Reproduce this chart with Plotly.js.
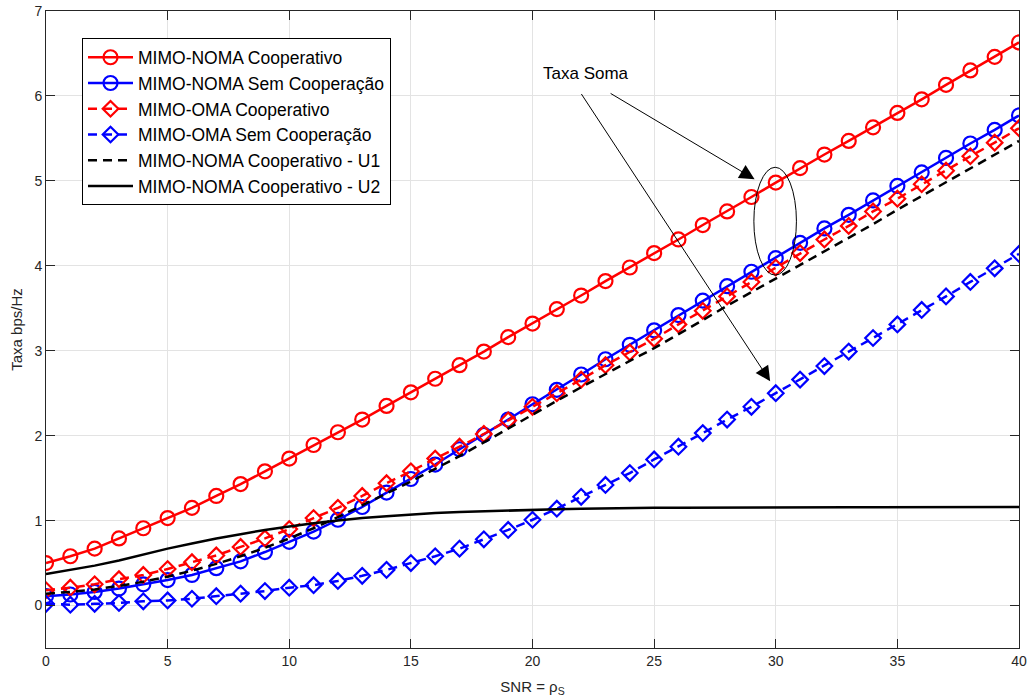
<!DOCTYPE html>
<html>
<head>
<meta charset="utf-8">
<script src="https://cdn.plot.ly/plotly-3.0.1.min.js"></script>
<style>html,body{margin:0;padding:0;background:#fff;}#chart{width:1032px;height:699px;}</style>
</head>
<body>
<div id="chart"></div>
<script>
// SNR values (x axis)
const snr = [0,1,2,3,4,5,6,7,8,9,10,11,12,13,14,15,16,17,18,19,20,21,22,23,24,25,26,27,28,29,30,31,32,33,34,35,36,37,38,39,40];

// MIMO-NOMA Cooperativo (red, circles)
const nomaCoop = [0.50,0.58,0.67,0.79,0.91,1.03,1.15,1.29,1.43,1.58,1.73,1.89,2.04,2.19,2.35,2.51,2.67,2.83,2.99,3.16,3.32,3.49,3.65,3.82,3.98,4.15,4.31,4.48,4.64,4.81,4.98,5.15,5.31,5.47,5.63,5.80,5.96,6.13,6.30,6.46,6.63];

// MIMO-NOMA Sem Cooperação (blue, circles)
const nomaSem = [0.11,0.13,0.16,0.20,0.25,0.30,0.36,0.44,0.52,0.63,0.75,0.87,1.01,1.16,1.33,1.49,1.66,1.84,2.01,2.19,2.37,2.54,2.72,2.90,3.07,3.24,3.42,3.59,3.76,3.93,4.09,4.27,4.44,4.60,4.77,4.94,5.10,5.27,5.44,5.60,5.77];

// MIMO-OMA Cooperativo (red, diamonds, dashed)
const omaCoop = [0.18,0.21,0.25,0.31,0.36,0.43,0.51,0.59,0.69,0.79,0.90,1.03,1.15,1.29,1.44,1.58,1.73,1.87,2.02,2.18,2.34,2.50,2.66,2.83,2.98,3.14,3.31,3.47,3.64,3.81,3.98,4.15,4.31,4.47,4.64,4.79,4.96,5.12,5.29,5.45,5.62];

// MIMO-OMA Sem Cooperação (blue, diamonds, dashed)
const omaSem = [0.02,0.01,0.02,0.03,0.05,0.06,0.08,0.11,0.14,0.17,0.21,0.24,0.29,0.35,0.42,0.50,0.58,0.67,0.78,0.89,1.01,1.14,1.28,1.42,1.56,1.72,1.87,2.03,2.19,2.34,2.50,2.66,2.82,2.99,3.15,3.31,3.48,3.64,3.81,3.97,4.14];

// MIMO-NOMA Cooperativo - U1 (black dashed)
const nomaU1 = [0.14,0.16,0.19,0.23,0.28,0.34,0.41,0.49,0.58,0.68,0.79,0.91,1.04,1.18,1.32,1.46,1.61,1.76,1.92,2.08,2.25,2.41,2.57,2.73,2.88,3.03,3.19,3.36,3.53,3.69,3.85,4.01,4.17,4.33,4.49,4.66,4.82,4.98,5.14,5.30,5.47];

// MIMO-NOMA Cooperativo - U2 (black solid)
const nomaU2 = [0.37,0.42,0.47,0.53,0.60,0.67,0.73,0.79,0.84,0.89,0.93,0.97,1.00,1.03,1.05,1.07,1.09,1.10,1.11,1.12,1.13,1.135,1.14,1.145,1.15,1.15,1.15,1.152,1.153,1.154,1.155,1.155,1.156,1.156,1.157,1.157,1.158,1.158,1.159,1.159,1.16];

const seriesNames = ["MIMO-NOMA Cooperativo","MIMO-NOMA Sem Cooperação","MIMO-OMA Cooperativo","MIMO-OMA Sem Cooperação","MIMO-NOMA Cooperativo - U1","MIMO-NOMA Cooperativo - U2"];

// Annotation anchors (data units)
const labelText = "Taxa Soma";
const labelPos = [20.35, 6.26];
const arrow1 = {tail:[23.15,6.04], head:[29.13,5.02]};
const arrow2 = {tail:[21.97,6.04], head:[29.77,2.64]};
const ellipse = {x0:29.1, x1:30.85, y0:3.89, y1:5.16};

const FONT = "Liberation Sans, Arial, Helvetica, sans-serif";
const RED = "#ff0000", BLUE = "#0000ff", BLACK = "#000000";
const LW = 2.5;

const traces = [
  {x:snr, y:nomaCoop, name:seriesNames[0], mode:"lines+markers",
   line:{color:RED, width:LW},
   marker:{symbol:"circle-open", size:14, color:RED, line:{width:2.2, color:RED}}},
  {x:snr, y:nomaSem, name:seriesNames[1], mode:"lines+markers",
   line:{color:BLUE, width:LW},
   marker:{symbol:"circle-open", size:14, color:BLUE, line:{width:2.2, color:BLUE}}},
  {x:snr, y:omaCoop, name:seriesNames[2], mode:"lines+markers",
   line:{color:RED, width:LW, dash:"9px,6px"},
   marker:{symbol:"diamond-open", size:12, color:RED, line:{width:2.2, color:RED}}},
  {x:snr, y:omaSem, name:seriesNames[3], mode:"lines+markers",
   line:{color:BLUE, width:LW, dash:"9px,6px"},
   marker:{symbol:"diamond-open", size:12, color:BLUE, line:{width:2.2, color:BLUE}}},
  {x:snr, y:nomaU1, name:seriesNames[4], mode:"lines",
   line:{color:BLACK, width:LW, dash:"9px,6px"}},
  {x:snr, y:nomaU2, name:seriesNames[5], mode:"lines",
   line:{color:BLACK, width:LW}}
];

const axisCommon = {
  showline:true, linecolor:"#262626", linewidth:1, mirror:"ticks",
  ticks:"inside", ticklen:9, tickcolor:"#262626", tickwidth:1,
  showgrid:true, gridcolor:"#e3e3e3", gridwidth:1, zeroline:false,
  tickfont:{family:FONT, size:14, color:"#262626"}
};

const layout = {
  width:1032, height:699,
  margin:{l:46, r:13, t:11, b:51},
  paper_bgcolor:"#ffffff", plot_bgcolor:"#ffffff",
  font:{family:FONT, color:"#262626"},
  xaxis:Object.assign({}, axisCommon, {
    range:[0,40], tick0:0, dtick:5,
    title:{text:"SNR = ρ<sub>S</sub>", font:{family:FONT, size:15, color:"#262626"}, standoff:13}
  }),
  yaxis:Object.assign({}, axisCommon, {
    range:[-0.5,7], tick0:0, dtick:1,
    title:{text:"Taxa bps/Hz", font:{family:FONT, size:15, color:"#262626"}, standoff:8}
  }),
  showlegend:true,
  legend:{x:0.037, y:0.957, xanchor:"left", yanchor:"top",
    bgcolor:"#ffffff", bordercolor:"#000000", borderwidth:1,
    itemwidth:45,
    font:{family:FONT, size:17.5, color:"#000000"}, tracegroupgap:0},
  shapes:[
    {type:"circle", xref:"x", yref:"y", x0:ellipse.x0, x1:ellipse.x1, y0:ellipse.y0, y1:ellipse.y1,
     line:{color:"#000000", width:1}}
  ],
  annotations:[
    {x:labelPos[0], y:labelPos[1], xref:"x", yref:"y", text:labelText, showarrow:false,
     xanchor:"left", yanchor:"middle", font:{family:FONT, size:17, color:"#000000"}},
    {x:arrow1.head[0], y:arrow1.head[1], ax:arrow1.tail[0], ay:arrow1.tail[1],
     xref:"x", yref:"y", axref:"x", ayref:"y", text:"", showarrow:true,
     arrowhead:2, arrowsize:3, arrowwidth:1, arrowcolor:"#000000", standoff:0},
    {x:arrow2.head[0], y:arrow2.head[1], ax:arrow2.tail[0], ay:arrow2.tail[1],
     xref:"x", yref:"y", axref:"x", ayref:"y", text:"", showarrow:true,
     arrowhead:2, arrowsize:3, arrowwidth:1, arrowcolor:"#000000", standoff:0}
  ]
};

Plotly.newPlot("chart", traces, layout, {displayModeBar:false, staticPlot:true});
</script>
</body>
</html>
